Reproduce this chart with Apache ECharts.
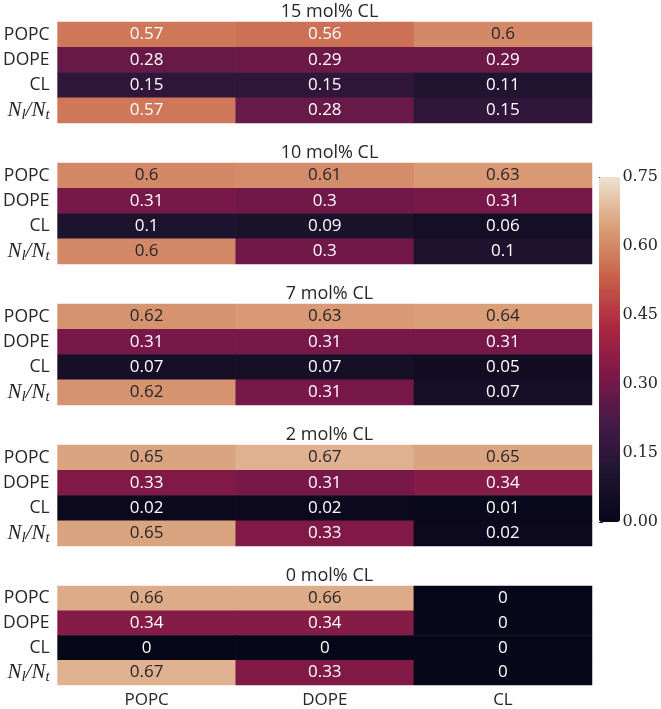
<!DOCTYPE html>
<html>
<head>
<meta charset="utf-8">
<script src="https://cdn.jsdelivr.net/npm/echarts@6/dist/echarts.min.js"></script>
<style>
html,body{margin:0;padding:0;background:#fff;}
#chart{width:661px;height:709px;}
</style>
</head>
<body>
<div id="chart"></div>
<script>
// ---- data ----
const columns = ['POPC', 'DOPE', 'CL'];
const rows = ['POPC', 'DOPE', 'CL', 'NlNt'];
const panelTitles = ['15 mol% CL', '10 mol% CL', '7 mol% CL', '2 mol% CL', '0 mol% CL'];
const cl15 = [[0.57, 0.56, 0.6], [0.28, 0.29, 0.29], [0.15, 0.15, 0.11], [0.57, 0.28, 0.15]];
const cl10 = [[0.6, 0.61, 0.63], [0.31, 0.3, 0.31], [0.1, 0.09, 0.06], [0.6, 0.3, 0.1]];
const cl7  = [[0.62, 0.63, 0.64], [0.31, 0.31, 0.31], [0.07, 0.07, 0.05], [0.62, 0.31, 0.07]];
const cl2  = [[0.65, 0.67, 0.65], [0.33, 0.31, 0.34], [0.02, 0.02, 0.01], [0.65, 0.33, 0.02]];
const cl0  = [[0.66, 0.66, 0], [0.34, 0.34, 0], [0, 0, 0], [0.67, 0.33, 0]];
const panels = [cl15, cl10, cl7, cl2, cl0];
const vmin = 0, vmax = 0.75;

// rocket-like colormap stops as seen in the reference (evenly spaced over vmin..vmax)
const rocket = ['#07071a', '#201430', '#451a48', '#7d1848', '#ae2740', '#c8634a', '#daa07a', '#efe2cf'];

const SANS = '"Open Sans", "Noto Sans", sans-serif';
const SERIF = '"DejaVu Serif", serif';
const MATH = '"Liberation Serif", serif';

const gridLeft = 57, gridWidth = 535, gridHeight = 101;
const gridTops = [22, 163, 304, 445, 586];

function fmt(v) { return String(Number(v.toPrecision(2))); }

const grids = [], xAxes = [], yAxes = [], series = [], titles = [];
panels.forEach((mat, p) => {
  grids.push({left: gridLeft, width: gridWidth, top: gridTops[p], height: gridHeight});
  xAxes.push({
    type: 'category', data: columns, gridIndex: p,
    axisLine: {show: false}, axisTick: {show: false}, splitLine: {show: false},
    axisLabel: {show: p === panels.length - 1, color: '#262626', fontSize: 17, fontFamily: SANS, margin: 7}
  });
  yAxes.push({
    type: 'category', data: rows, gridIndex: p, inverse: true,
    axisLine: {show: false}, axisTick: {show: false}, splitLine: {show: false},
    axisLabel: {
      color: '#262626', fontSize: 17.5, fontFamily: SANS, margin: 8,
      formatter: v => v === 'NlNt' ? '{i|N}{s|l}{i|/N}{s|t}' : v,
      rich: {
        i: {fontFamily: MATH, fontStyle: 'italic', fontSize: 21, color: '#262626', lineHeight: 22},
        s: {fontFamily: MATH, fontStyle: 'italic', fontSize: 15, color: '#262626', padding: [9, 0, 0, 0], lineHeight: 22}
      }
    }
  });
  const data = [];
  mat.forEach((r, ri) => r.forEach((v, ci) => data.push([ci, ri, v])));
  series.push({
    type: 'heatmap', xAxisIndex: p, yAxisIndex: p, data: data,
    itemStyle: {borderWidth: 0},
    label: {
      show: true,
      formatter: prm => (prm.value[2] >= 0.58 ? '{d|' : '{w|') + fmt(prm.value[2]) + '}',
      rich: {
        d: {color: '#262626', fontSize: 17, fontFamily: SANS},
        w: {color: '#ffffff', fontSize: 17, fontFamily: SANS}
      }
    },
    emphasis: {disabled: true}
  });
  titles.push({
    text: panelTitles[p], left: gridLeft + gridWidth / 2, top: gridTops[p] - 24, textAlign: 'center',
    textStyle: {fontSize: 18, fontWeight: 'normal', color: '#262626', fontFamily: SANS}
  });
});

// colorbar axis
const cbIndex = panels.length;
grids.push({left: 599, width: 21, top: 177, height: 345});
xAxes.push({type: 'value', gridIndex: cbIndex, show: false, min: 0, max: 1});
yAxes.push({
  type: 'value', gridIndex: cbIndex, position: 'right', min: vmin, max: vmax, interval: 0.15,
  axisLine: {show: false}, splitLine: {show: false},
  axisTick: {show: true, length: 4, lineStyle: {color: '#262626', width: 1}},
  axisLabel: {color: '#262626', fontSize: 16, fontFamily: SERIF, margin: 5, formatter: v => v.toFixed(2)}
});

const option = {
  animation: false,
  backgroundColor: '#ffffff',
  title: titles,
  grid: grids,
  xAxis: xAxes,
  yAxis: yAxes,
  visualMap: {
    type: 'continuous', min: vmin, max: vmax, calculable: false, realtime: false,
    seriesIndex: [0, 1, 2, 3, 4],
    left: 599, top: 177, itemWidth: 21, itemHeight: 345, padding: 0,
    text: null, showLabel: false,
    inRange: {color: rocket}
  },
  series: series
};

const chart = echarts.init(document.getElementById('chart'), null, {renderer: 'canvas'});
chart.setOption(option);
</script>
</body>
</html>
